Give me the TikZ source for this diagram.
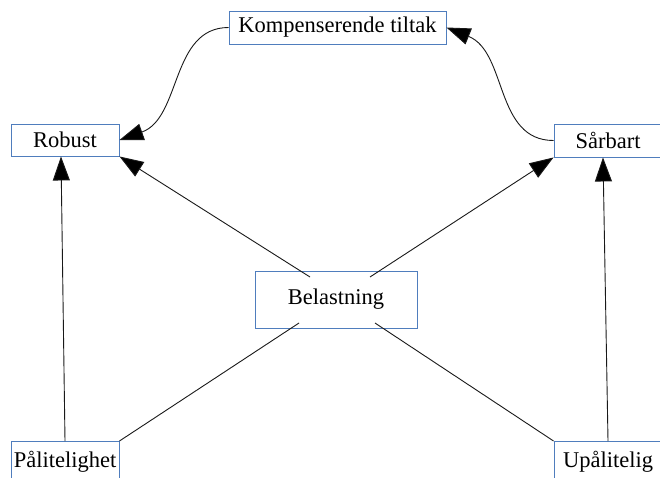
\documentclass[tikz,border=0pt]{standalone}
\usepackage{fontspec}
\setmainfont{Liberation Serif}
\usetikzlibrary{arrows.meta,calc}
\definecolor{boxblue}{RGB}{79,125,189}
\definecolor{linegray}{RGB}{25,25,25}
\begin{document}
\begin{tikzpicture}[x=1pt,y=-1pt,
  box/.style={draw=boxblue,line width=0.9pt,fill=white,inner sep=0pt,align=center,
    font=\fontsize{22.5}{26}\selectfont},
  conn/.style={draw=linegray,line width=0.9pt},
  arr/.style={conn,-{Triangle[length=24pt,width=17pt,fill=black]}}]
\useasboundingbox (0,0) rectangle (660,477);
\clip (0,0) rectangle (660,477);
% nodes
\node[box,minimum width=217pt,minimum height=33pt] (komp) at (337.5,27.5) {Kompenserende tiltak};
\node[box,minimum width=108pt,minimum height=32pt] (rob) at (65,140) {Robust};
\node[box,minimum width=108pt,minimum height=33pt] (sar) at (608,140.5) {Sårbart};
\node[box,minimum width=162pt,minimum height=57pt] (bel) at (336,299.5) {Belastning};
\node[box,minimum width=108pt,minimum height=40pt,anchor=north] (pal) at (65,441) {Pålitelighet};
\node[box,minimum width=108pt,minimum height=40pt,anchor=north] (upa) at (608,441) {Upålitelig};
% inner end points of connectors inside Belastning
\coordinate (b1) at ($(bel.center)+(-26,-22.5)$);
\coordinate (b2) at ($(bel.center)+(34,-22.5)$);
\coordinate (b3) at ($(bel.center)+(-37,23.5)$);
\coordinate (b4) at ($(bel.center)+(39,23.5)$);
% connectors
\draw[arr] (b1) -- (rob.south east);
\draw[arr] (b2) -- (sar.south west);
\draw[conn] (pal.north east) -- (b3);
\draw[conn] (upa.north west) -- (b4);
\draw[arr] (pal.north) -- ($(rob.south)+(-4,0)$);
\draw[arr] (upa.north) -- ($(sar.south)+(-5,0)$);
\draw[arr] (komp.west) .. controls ($(komp.west)+(-58,0)$) and ($(rob.east)+(62,-22)$) .. (rob.east);
\draw[arr] (sar.west) .. controls ($(sar.west)+(-59,0)$) and ($(komp.east)+(61,24.5)$) .. (komp.east);
\end{tikzpicture}
\end{document}
